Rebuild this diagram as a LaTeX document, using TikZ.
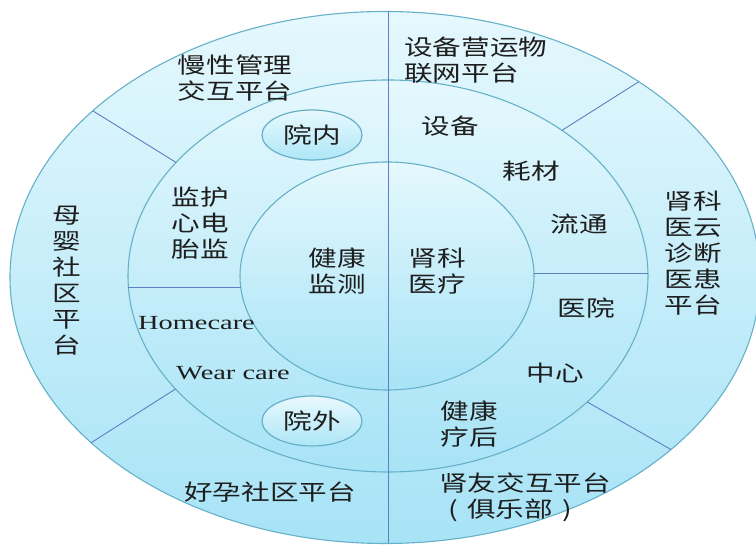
\documentclass[tikz,border=0pt]{standalone}
\usepackage{fontspec}
\newfontfamily\cjk[FakeStretch=1.3]{Noto Sans CJK SC}
\newfontfamily\latf[FakeStretch=1.42]{Liberation Serif}
\usetikzlibrary{shapes.geometric,calc}
\definecolor{ringline}{HTML}{66B1C8}
\definecolor{divline}{HTML}{5C80C2}
\definecolor{topc}{HTML}{E5F8FD}
\definecolor{botc}{HTML}{A7E3F6}
\definecolor{pilltop}{HTML}{E8F9FE}
\definecolor{pillbot}{HTML}{AEE6F7}
\definecolor{txt}{HTML}{1E1E1E}
\newcommand{\cellparen}[1]{\makebox[28pt][c]{#1}}
\tikzset{
  ring/.style={draw=ringline, line width=1.1pt, top color=topc, bottom color=botc},
  divider/.style={draw=divline, line width=0.9pt},
  lbl/.style={font=\cjk\fontsize{22}{26}\selectfont, text=txt, inner sep=0pt, align=center},
  llbl/.style={lbl, align=left},
  eng/.style={font=\latf\fontsize{20}{22}\selectfont, text=txt, inner sep=0pt},
  pill/.style={ellipse, draw=ringline, line width=1.2pt, top color=pilltop, bottom color=pillbot,
    minimum width=100pt, minimum height=50pt, inner sep=0pt,
    font=\cjk\fontsize{22}{26}\selectfont, text=txt}
}
\begin{document}
\begin{tikzpicture}[x=1pt,y=1pt]
\useasboundingbox (0,0) rectangle (756,545);
\coordinate (oc) at (385,267.5);
\coordinate (mc) at (388,269);
\coordinate (ic) at (387,269);
% rings
\path[ring] (oc) ellipse [x radius=375, y radius=266];
\path[ring] (mc) ellipse [x radius=260, y radius=196];
\path[ring] (ic) ellipse [x radius=147, y radius=114];
% vertical divider
\coordinate (vt) at (388,533.5);
\coordinate (vb) at (388,1.5);
\draw[divider] (vt) -- (vb);
% horizontal dividers in middle ring
\coordinate (hl1) at (128.4,258);
\coordinate (hl2) at (240.7,258);
\coordinate (hr1) at (533.9,272);
\coordinate (hr2) at (648,272);
\draw[divider] (hl1) -- (hl2);
\draw[divider] (hr1) -- (hr2);
% radial dividers in outer ring
\coordinate (ul1) at ($(mc)+(144.6:260 and 196)$);
\coordinate (ul2) at ($(oc)+(141.2:375 and 266)$);
\coordinate (ur1) at ($(mc)+(48.0:260 and 196)$);
\coordinate (ur2) at ($(oc)+(47.4:375 and 266)$);
\coordinate (ll1) at ($(mc)+(215.2:260 and 196)$);
\coordinate (ll2) at ($(oc)+(218.4:375 and 266)$);
\coordinate (lr1) at ($(mc)+(320.0:260 and 196)$);
\coordinate (lr2) at ($(oc)+(319.7:375 and 266)$);
\draw[divider] (ul1) -- (ul2);
\draw[divider] (ur1) -- (ur2);
\draw[divider] (ll1) -- (ll2);
\draw[divider] (lr1) -- (lr2);
% pills
\node[pill] (yn) at (312,410) {院内};
\node[pill] (yw) at (312,124) {院外};
% outer ring texts
\node[lbl] (mx) at (235,467) {慢性管理\\交互平台};
\node[llbl, anchor=west] (sb) at (404,485) {设备营运物\\联网平台};
\node[lbl] (my) at (67,264) {母\\婴\\社\\区\\平\\台};
\node[lbl] (sk) at (693,292) {肾科\\医云\\诊断\\医患\\平台};
\node[lbl] (hy) at (270,53) {好孕社区平台};
\node[llbl, anchor=west] (sy) at (439,48) {肾友交互平台\\\cellparen{(}俱乐部\cellparen{)}};
% middle ring texts
\node[lbl] (jh) at (200,322) {监护\\心电\\胎监};
\node[eng] (hc) at (196.5,222) {Homecare};
\node[eng] (wc) at (233,172) {Wear care};
\node[lbl] (shb) at (450,419) {设备};
\node[lbl] (hc2) at (531,374) {耗材};
\node[lbl] (lt) at (579,321) {流通};
\node[lbl] (yy) at (586,237) {医院};
\node[lbl] (zx) at (555,172) {中心};
\node[lbl] (jk2) at (469,121) {健康\\疗后};
% inner texts
\node[lbl] (jk) at (337,274) {健康\\监测};
\node[lbl] (skl) at (437,274) {肾科\\医疗};
\end{tikzpicture}
\end{document}
